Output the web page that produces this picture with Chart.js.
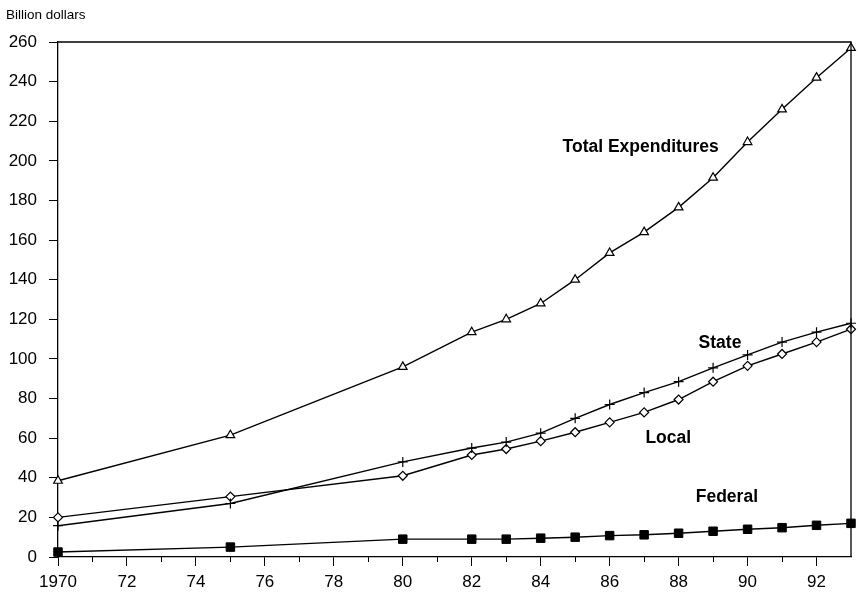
<!DOCTYPE html>
<html>
<head>
<meta charset="utf-8">
<script src="https://cdn.jsdelivr.net/npm/chart.js@4"></script>
<style>
html,body{margin:0;padding:0;background:#fff;}
#wrap{position:relative;width:858px;height:608px;}
</style>
</head>
<body>
<div id="wrap"><canvas id="c" width="858" height="608"></canvas></div>
<script>
const years = [1970, 1975, 1980, 1982, 1983, 1984, 1985, 1986, 1987, 1988, 1989, 1990, 1991, 1992, 1993];
const totalExp = [38.5, 61.5, 96, 113.5, 120, 128, 140, 153.5, 164, 176.5, 191.5, 209.5, 226, 242, 257];
const stateExp = [15.8, 27, 48, 55, 58, 62.5, 70, 77, 83, 88.5, 95.5, 102, 108.5, 113.5, 118];
const localExp = [20, 30.5, 41, 51.5, 54.5, 58.5, 63, 68, 73, 79.5, 88.5, 96.5, 102.5, 108.5, 115];
const federalExp = [2.5, 5, 9, 9, 9, 9.5, 10, 10.8, 11.2, 12, 13, 14, 14.8, 16, 17];
const yTicks = [0,20,40,60,80,100,120,140,160,180,200,220,240,260];
const xMajorTicks = [1970,1972,1974,1976,1978,1980,1982,1984,1986,1988,1990,1992];
const xTickLabels = ['1970','72','74','76','78','80','82','84','86','88','90','92'];
const xMinorTicks = [1971,1973,1975,1977,1979,1981,1983,1985,1987,1989,1991];
const seriesLabels = [
  {text:'Total Expenditures', x:1986.9, y:207},
  {text:'State', x:1989.2, y:108},
  {text:'Local', x:1987.7, y:60},
  {text:'Federal', x:1989.4, y:30}
];

function pts(arr){ return years.map((yr,i)=>({x:yr, y:arr[i]})); }

const FONT = '"Liberation Sans", Arial, Helvetica, sans-serif';

const framePlugin = {
  id:'frame',
  afterDatasetsDraw(chart){
    const {ctx, chartArea:a} = chart;
    const xs = chart.scales.x, ys = chart.scales.y;
    ctx.save();
    ctx.strokeStyle='#000';
    ctx.lineWidth=1.3;
    ctx.beginPath();
    ctx.moveTo(a.left, a.top); ctx.lineTo(a.right, a.top); ctx.lineTo(a.right, a.bottom);
    ctx.stroke();
    // minor x ticks
    ctx.lineWidth=1;
    ctx.beginPath();
    xMinorTicks.forEach(v=>{
      const px = Math.round(xs.getPixelForValue(v))+0.5;
      ctx.moveTo(px, a.bottom); ctx.lineTo(px, a.bottom+5);
    });
    ctx.stroke();
    ctx.fillStyle='#000';
    ctx.font='13.5px '+FONT;
    ctx.textAlign='left'; ctx.textBaseline='middle';
    ctx.fillText('Billion dollars', 6, 15);
    ctx.font='bold 17.5px '+FONT;
    ctx.textAlign='center';
    seriesLabels.forEach(l=>{
      ctx.fillText(l.text, xs.getPixelForValue(l.x), ys.getPixelForValue(l.y));
    });
    ctx.restore();
  }
};

new Chart(document.getElementById('c'), {
  type:'line',
  data:{
    datasets:[
      {label:'Total Expenditures', data:pts(totalExp), borderColor:'#000', borderWidth:1.4, pointStyle:'triangle', pointRadius:5, pointBackgroundColor:'#fff', pointBorderColor:'#000', pointBorderWidth:1.2},
      {label:'State', data:pts(stateExp), borderColor:'#000', borderWidth:1.4, pointStyle:'cross', pointRadius:5, pointBorderColor:'#000', pointBorderWidth:1.2},
      {label:'Local', data:pts(localExp), borderColor:'#000', borderWidth:1.4, pointStyle:'rectRot', pointRadius:4.5, pointBackgroundColor:'#fff', pointBorderColor:'#000', pointBorderWidth:1.2},
      {label:'Federal', data:pts(federalExp), borderColor:'#000', borderWidth:1.4, pointStyle:'rect', pointRadius:6, pointBackgroundColor:'#000', pointBorderColor:'#000', pointBorderWidth:1}
    ]
  },
  options:{
    responsive:false,
    animation:false,
    clip:false,
    layout:{padding:{left:0, right:2, top:42, bottom:0}},
    plugins:{legend:{display:false}, tooltip:{enabled:false}},
    elements:{line:{tension:0}},
    scales:{
      x:{
        type:'linear', min:1970, max:1993,
        afterFit(s){ s.height = 51; },
        afterBuildTicks(s){ s.ticks = xMajorTicks.map(v=>({value:v})); },
        border:{color:'#000', width:1.3},
        grid:{display:true, drawOnChartArea:false, drawTicks:true, tickLength:9, color:'#000', lineWidth:1},
        ticks:{color:'#000', font:{family:FONT, size:17}, padding:6, maxRotation:0, autoSkip:false,
          callback(v){ const i = xMajorTicks.indexOf(v); return i>=0 ? xTickLabels[i] : ''; }}
      },
      y:{
        min:0, max:260,
        afterFit(s){ s.width = 58; },
        afterBuildTicks(s){ s.ticks = yTicks.map(v=>({value:v})); },
        border:{color:'#000', width:1.3},
        grid:{display:true, drawOnChartArea:false, drawTicks:true, tickLength:9, color:'#000', lineWidth:1},
        ticks:{color:'#000', font:{family:FONT, size:17}, padding:12}
      }
    }
  },
  plugins:[framePlugin]
});
</script>
</body>
</html>
